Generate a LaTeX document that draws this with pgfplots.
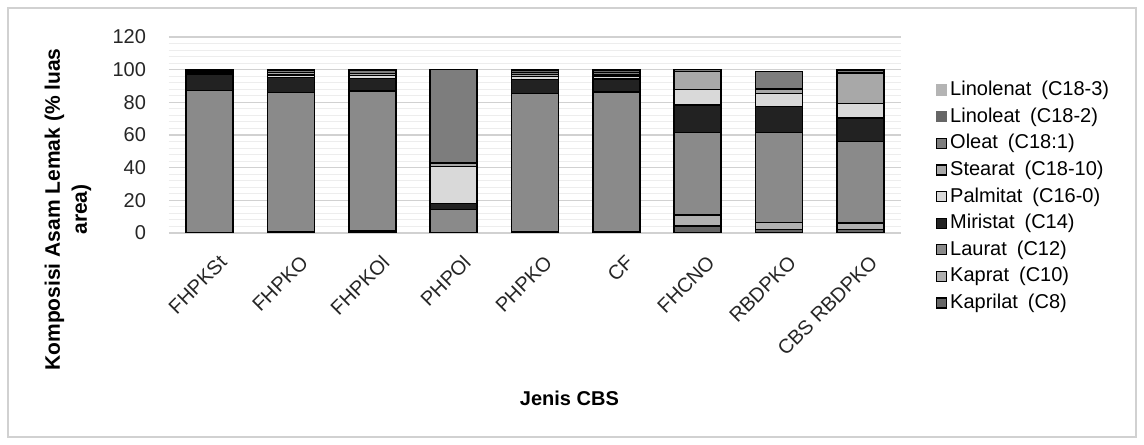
\documentclass[border=0pt]{standalone}
\usepackage{fontspec}
\setmainfont{Liberation Sans}
\usepackage{pgfplots}
\usepackage{pgfplotstable}
\pgfplotsset{compat=1.18}
\definecolor{cA}{HTML}{666666}
\definecolor{cB}{HTML}{B0B0B0}
\definecolor{cC}{HTML}{8A8A8A}
\definecolor{cD}{HTML}{222222}
\definecolor{cE}{HTML}{D9D9D9}
\definecolor{cF}{HTML}{A8A8A8}
\definecolor{cG}{HTML}{7D7D7D}
\definecolor{cH}{HTML}{666666}
\definecolor{cI}{HTML}{B4B4B4}
\pgfplotstableread{
x C8 C10 C12 C14 C16 C18 C181 C182 C183
0 0   0   87.4 9.9  0.8  1.2  0.7  0   0
1 0.2 0.3 85.7 9.1  1.4  1.5  1.6  0.2 0
2 0.5 1.0 85.5 7.7  1.6  1.5  1.6  0.6 0
3 0   0   14.5 3.7  22.4 2.2  57.2 0   0
4 0.2 0.3 84.8 8.8  1.6  1.4  1.2  1.5 0
5 0.2 0.3 85.8 8.0  1.5  1.0  1.4  1.6 0
6 4.4 6.6 50.4 17.0 9.3  11.1 1.2  0   0
7 2.3 4.0 55.1 15.9 8.2  2.7  10.5 0.3 0
8 2.0 4.0 50.1 14.3 8.8  18.7 1.5  0.5 0
}\datatable
\begin{document}
\begin{tikzpicture}
\useasboundingbox (0,0) rectangle (572bp,222.5bp);
\fill[white] (0,0) rectangle (572bp,222.5bp);
\draw[black!18, line width=0.8bp] (4bp,4bp) rectangle (568bp,218.5bp);
\begin{axis}[
  at={(84.5bp,106bp)}, anchor=south west,
  scale only axis, width=366bp, height=98bp,
  ybar stacked, bar width=23.5bp,
  xmin=-0.5, xmax=8.5, ymin=0, ymax=120,
  xtick={0,...,8},
  xticklabels={FHPKSt,FHPKO,FHPKOl,PHPOl,PHPKO,CF,FHCNO,RBDPKO,CBS RBDPKO},
  ytick={0,20,...,120}, minor y tick num=4,
  ymajorgrids, yminorgrids,
  major grid style={black!18, line width=0.6bp},
  minor grid style={black!7, line width=0.5bp},
  axis line style={draw=none}, tick style={draw=none},
  /pgf/number format/assume math mode=true,
  ticklabel style={font=\fontsize{10bp}{12bp}\selectfont, text=black!85},
  yticklabel style={xshift=-8bp},
  xticklabel style={rotate=45, anchor=east, xshift=-1bp, yshift=-14bp},
  ylabel={Komposisi Asam Lemak (\% luas\\area)},
  ylabel style={at={(axis description cs:-0.138,0.12)}, anchor=center, align=center, font=\fontsize{10.5bp}{13.5bp}\selectfont\bfseries},
  xlabel={Jenis CBS},
  xlabel style={at={(axis description cs:0.547,-0.842)}, anchor=center, font=\fontsize{10bp}{12bp}\selectfont\bfseries},
  every axis plot/.append style={draw=black, line width=0.7bp},
  legend image code/.code={\draw[#1, line width=0.6bp] (0bp,-2.5bp) rectangle (5bp,2.5bp);},
  reverse legend,
  legend style={at={(1.047,0.186)}, anchor=west, draw=none, fill=none,
    font=\fontsize{10bp}{12bp}\selectfont, inner xsep=0pt, inner ysep=0pt,
    row sep=0.8bp,
    nodes={inner sep=1.5bp, text height=7.5bp, text depth=2bp},
    legend cell align=left},
]
\addplot[fill=cA] table[x=x,y=C8]{\datatable};
\addlegendentry{Kaprilat\enspace(C8)}
\addplot[fill=cB] table[x=x,y=C10]{\datatable};
\addlegendentry{Kaprat\enspace(C10)}
\addplot[fill=cC] table[x=x,y=C12]{\datatable};
\addlegendentry{Laurat\enspace(C12)}
\addplot[fill=cD] table[x=x,y=C14]{\datatable};
\addlegendentry{Miristat\enspace(C14)}
\addplot[fill=cE] table[x=x,y=C16]{\datatable};
\addlegendentry{Palmitat\enspace(C16-0)}
\addplot[fill=cF] table[x=x,y=C18]{\datatable};
\addlegendentry{Stearat\enspace(C18-10)}
\addplot[fill=cG] table[x=x,y=C181]{\datatable};
\addlegendentry{Oleat\enspace(C18:1)}
\addplot[fill=cH, legend image code/.code={\fill[cH] (0bp,-2.5bp) rectangle (5bp,2.5bp);}] table[x=x,y=C182]{\datatable};
\addlegendentry{Linoleat\enspace(C18-2)}
\addplot[fill=cI, legend image code/.code={\fill[cI] (0bp,-2.5bp) rectangle (5bp,2.5bp);}] table[x=x,y=C183]{\datatable};
\addlegendentry{Linolenat\enspace(C18-3)}
\end{axis}
\end{tikzpicture}
\end{document}
